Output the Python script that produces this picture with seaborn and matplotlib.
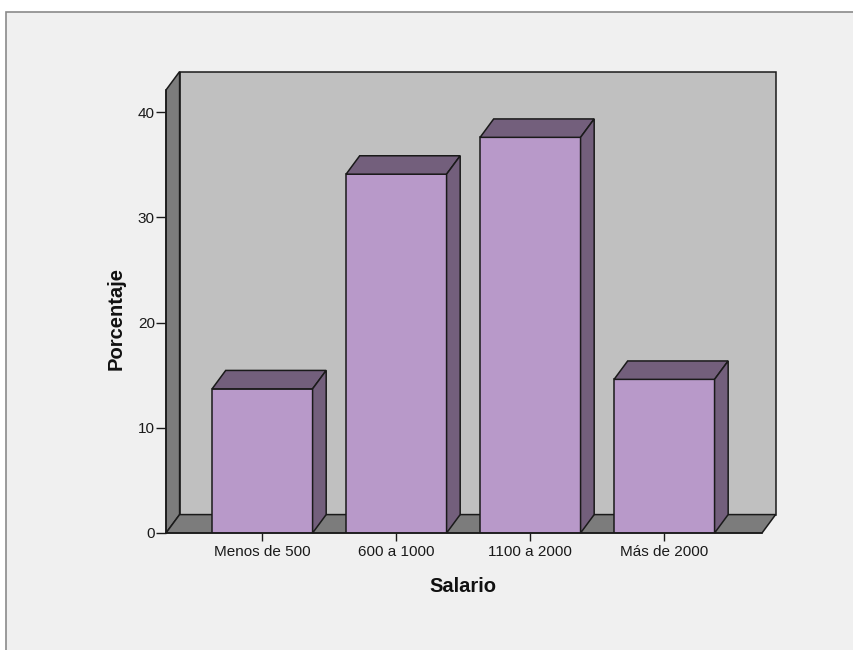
import matplotlib
matplotlib.use("Agg")
import matplotlib.pyplot as plt
import seaborn as sns
import pandas as pd
from matplotlib.patches import Polygon, Rectangle

# Distribución del salario (porcentaje de casos)
categorias = ["Menos de 500", "600 a 1000", "1100 a 2000", "Más de 2000"]
porcentajes = [13.7, 34.1, 37.6, 14.6]
marcas_y = [0, 10, 20, 30, 40]

df = pd.DataFrame({"Salario": categorias, "Porcentaje": porcentajes})

sns.set_theme(style="white")
plt.rcParams["font.family"] = ["Liberation Sans", "DejaVu Sans"]

COLOR_FONDO = "#F0F0F0"
COLOR_PARED = "#C0C0C0"
COLOR_SUELO = "#7C7C7C"
COLOR_BARRA = "#B899C9"
COLOR_BARRA_SOMBRA = "#735F7C"
COLOR_BORDE = "#1A1A1A"

fig = plt.figure(figsize=(8.54, 6.5), dpi=100, facecolor="white")
fig.add_artist(Rectangle((6 / 854, -0.05), 1.1, (650 - 12) / 650 + 0.05,
                         transform=fig.transFigure, facecolor=COLOR_FONDO,
                         edgecolor="#8A8A8A", lw=1.2, zorder=0))

ax = fig.add_axes([166 / 854, 117 / 650, 596 / 854, 443 / 650])
ax.patch.set_alpha(0)

sns.barplot(data=df, x="Salario", y="Porcentaje", color=COLOR_BARRA,
            saturation=1, width=0.75, edgecolor=COLOR_BORDE, linewidth=1.1,
            ax=ax, zorder=4)

x0, x1 = -0.719, 3.729
y_top = 42.1
dx, dy = 0.1015, 1.75  # desplazamiento de profundidad (efecto 3D)

ax.set_xlim(x0, x1)
ax.set_ylim(0, y_top)

# Caja 3D: pared del fondo, pared lateral y suelo
ax.add_patch(Rectangle((x0 + dx, dy), x1 - x0, y_top, facecolor=COLOR_PARED,
                       edgecolor=COLOR_BORDE, lw=1.1, clip_on=False, zorder=1))
ax.add_patch(Polygon([(x0, 0), (x0, y_top), (x0 + dx, y_top + dy), (x0 + dx, dy)],
                     closed=True, facecolor=COLOR_SUELO, edgecolor=COLOR_BORDE,
                     lw=1.1, clip_on=False, zorder=1.5))
ax.add_patch(Polygon([(x0, 0), (x1, 0), (x1 + dx, dy), (x0 + dx, dy)],
                     closed=True, facecolor=COLOR_SUELO, edgecolor=COLOR_BORDE,
                     lw=1.1, clip_on=False, zorder=1.5))

# Caras superior y lateral de cada barra
for p in list(ax.patches):
    if p.get_facecolor()[:3] != matplotlib.colors.to_rgb(COLOR_BARRA):
        continue
    x, w, h = p.get_x(), p.get_width(), p.get_height()
    ax.add_patch(Polygon([(x, h), (x + w, h), (x + w + dx, h + dy), (x + dx, h + dy)],
                         closed=True, facecolor=COLOR_BARRA_SOMBRA,
                         edgecolor=COLOR_BORDE, lw=1.1, clip_on=False, zorder=4))
    ax.add_patch(Polygon([(x + w, 0), (x + w + dx, dy), (x + w + dx, h + dy), (x + w, h)],
                         closed=True, facecolor=COLOR_BARRA_SOMBRA,
                         edgecolor=COLOR_BORDE, lw=1.1, clip_on=False, zorder=4))

for lado in ("top", "right"):
    ax.spines[lado].set_visible(False)
for lado in ("left", "bottom"):
    ax.spines[lado].set_color(COLOR_BORDE)
    ax.spines[lado].set_linewidth(1.1)
    ax.spines[lado].set_zorder(5)

ax.set_yticks(marcas_y)
ax.tick_params(axis="y", direction="out", length=7, width=1, color=COLOR_BORDE,
               labelsize=11, pad=1, left=True, labelcolor="#1A1A1A")
ax.tick_params(axis="x", direction="out", length=5.5, width=1, color=COLOR_BORDE,
               labelsize=11, pad=3, bottom=True, labelcolor="#1A1A1A")

ax.set_ylabel("Porcentaje", fontsize=14.5, fontweight="bold", color="#111111",
              va="center")
ax.yaxis.set_label_coords((116 - 166) / 596, (533 - 319) / 443)
ax.set_xlabel("Salario", fontsize=14.5, fontweight="bold", color="#111111",
              va="center")
ax.xaxis.set_label_coords((463 - 166) / 596, (533 - 586) / 443)

fig.savefig("out.png", dpi=100, facecolor=fig.get_facecolor())
